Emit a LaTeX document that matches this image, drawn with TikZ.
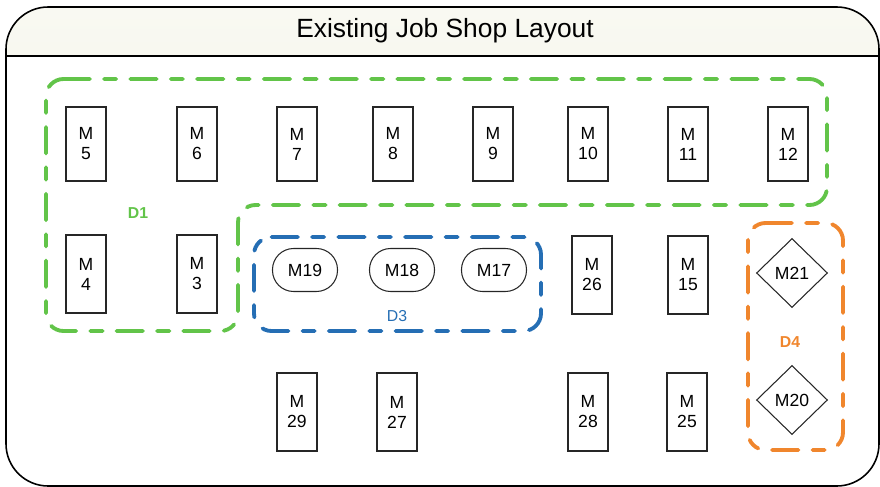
\documentclass[tikz,border=0pt]{standalone}
\usepackage{fontspec}
\setmainfont{Liberation Sans}
\usepackage{tikz}
\usetikzlibrary{shapes.geometric,positioning}
\definecolor{deptgreen}{RGB}{98,196,73}
\definecolor{deptblue}{RGB}{37,110,180}
\definecolor{deptorange}{RGB}{240,134,45}
\definecolor{titletop}{RGB}{249,249,242}
\definecolor{titlebot}{RGB}{236,238,221}

\begin{document}
\begin{tikzpicture}[x=0.02cm, y=-0.02cm,
    mbox/.style={draw=black!85, line width=0.6pt, minimum width=0.8cm, minimum height=1.56cm,
      inner sep=0pt, align=center, font=\fontsize{10}{11.4}\selectfont},
    oval/.style={draw=black!85, line width=0.6pt, rounded corners=12pt, minimum width=1.3cm,
      minimum height=0.86cm, inner sep=0pt, font=\fontsize{10}{12}\selectfont},
    diam/.style={draw=black!85, line width=0.6pt, diamond, minimum width=1.42cm,
      minimum height=1.38cm, inner sep=0pt, font=\fontsize{10}{12}\selectfont},
    region/.style={line width=2.2pt, line cap=round, rounded corners=10pt,
      dash pattern=on 15pt off 8pt on 7pt off 8pt},
    dlabel/.style={font=\fontsize{9}{11}\selectfont}]
    \useasboundingbox (0,0) rectangle (880,487);
    % frame and title bar
    \begin{scope}
      \clip (0,0) rectangle (880,56);
      \fill [top color=titletop, bottom color=titlebot, rounded corners=24pt] (6,7) rectangle (879,486);
    \end{scope}
    \draw [line width=0.9pt, rounded corners=24pt] (6,7) rectangle (879,486);
    \draw [line width=0.9pt] (6,56) -- (879,56);
    \node (title) at (445,31) {\fontsize{15}{18}\selectfont Existing Job Shop Layout};

    % top row
    \node [mbox, minimum height=1.48cm] (m5) at (86,144) {M\\5};
    \node [mbox, minimum height=1.48cm] (m6) at (197,144) {M\\6};
    \node [mbox, minimum height=1.48cm] (m7) at (297,144) {M\\7};
    \node [mbox, minimum height=1.48cm] (m8) at (393,144) {M\\8};
    \node [mbox, minimum height=1.48cm] (m9) at (493,144) {M\\9};
    \node [mbox, minimum height=1.48cm] (m10) at (588,144) {M\\10};
    \node [mbox, minimum height=1.48cm] (m11) at (688,144) {M\\11};
    \node [mbox, minimum height=1.48cm] (m12) at (788,144) {M\\12};

    % middle row
    \node [mbox] (m4) at (86,274) {M\\4};
    \node [mbox] (m3) at (197,274) {M\\3};
    \node [oval] (m19) at (305,270) {M19};
    \node [oval] (m18) at (402,270) {M18};
    \node [oval] (m17) at (494,270) {M17};
    \node [mbox] (m26) at (592,275) {M\\26};
    \node [mbox] (m15) at (688,275) {M\\15};
    \node [diam] (m21) at (792,273) {M21};

    % bottom row
    \node [mbox] (m29) at (297,412) {M\\29};
    \node [mbox] (m27) at (397,412) {M\\27};
    \node [mbox] (m28) at (588,412) {M\\28};
    \node [mbox] (m25) at (687,412) {M\\25};
    \node [diam] (m20) at (792,400) {M20};

    % departments
    \draw [region, draw=deptgreen] (46,79) -- (827,79) -- (827,205) -- (238,205) -- (238,331) -- (46,331) -- cycle;
    \draw [region, draw=deptblue] (254,237) -- (541,237) -- (541,331) -- (254,331) -- cycle;
    \draw [region, draw=deptorange] (748,223) -- (843,223) -- (843,450) -- (748,450) -- cycle;
    \node [dlabel, text=deptgreen, font=\fontsize{9}{11}\selectfont\bfseries] (d1) at (138,213) {D1};
    \node [dlabel, text=deptblue] (d3) at (397,316) {D3};
    \node [dlabel, text=deptorange, font=\fontsize{9}{11}\selectfont\bfseries] (d4) at (790,342) {D4};
\end{tikzpicture}
\end{document}
